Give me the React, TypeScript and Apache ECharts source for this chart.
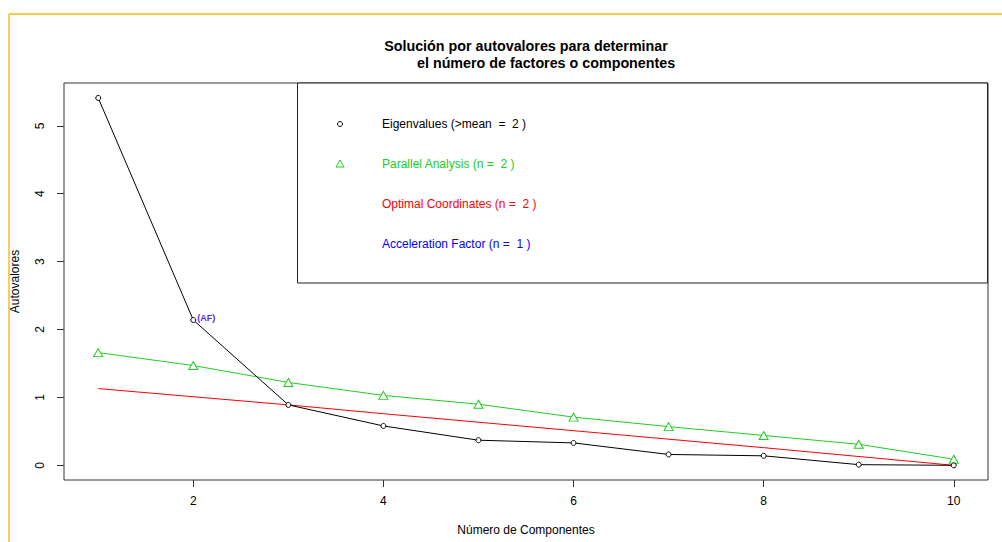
import React, { useEffect, useRef } from "react";
import * as echarts from "echarts";

const components = [1, 2, 3, 4, 5, 6, 7, 8, 9, 10];
const eigenvalues = [5.41, 2.14, 0.89, 0.58, 0.37, 0.33, 0.16, 0.14, 0.01, 0.0];
const parallel = [1.66, 1.47, 1.22, 1.03, 0.9, 0.71, 0.57, 0.44, 0.31, 0.09];
const ocX = [1, 3, 4, 6, 8, 10];
const ocY = [1.13, 0.89, 0.76, 0.51, 0.26, 0.0];
const xTicks = [2, 4, 6, 8, 10];
const yTicks = [0, 1, 2, 3, 4, 5];
const legendLabels = [
  "Eigenvalues (>mean  =  2 )",
  "Parallel Analysis (n =  2 )",
  "Optimal Coordinates (n =  2 )",
  "Acceleration Factor (n =  1 )",
];
const legendColors = ["#000000", "#22cc22", "#ff0000", "#0000ff"];
const titleLines = ["Solución por autovalores para determinar", "el número de factores o componentes"];

const FONT = "'Liberation Sans', Arial, sans-serif";
const GREEN = "#22cc22";
const TRI = "path://M5,0 L10,9 L0,9 Z";

export default function App() {
  const ref = useRef<HTMLDivElement>(null);
  useEffect(() => {
    if (!ref.current) return;
    const chart = echarts.init(ref.current, undefined, { renderer: "svg" });
    const legendTop = 124;
    const legendStep = 40;
    const legendGraphics: any[] = [];
    legendLabels.forEach((t, i) => {
      legendGraphics.push({
        type: "text",
        x: 382,
        y: legendTop + i * legendStep,
        style: { text: t, fill: legendColors[i], font: `12px ${FONT}`, textVerticalAlign: "middle" },
      });
    });
    legendGraphics.push({
      type: "circle",
      shape: { cx: 340, cy: legendTop, r: 2.5 },
      style: { fill: "#fff", stroke: "#000", lineWidth: 1 },
    });
    legendGraphics.push({
      type: "polygon",
      shape: { points: [[340, legendTop + legendStep - 4], [344, legendTop + legendStep + 3], [336, legendTop + legendStep + 3]] },
      style: { fill: "#fff", stroke: GREEN, lineWidth: 1 },
    });

    chart.setOption({
      animation: false,
      backgroundColor: "#ffffff",
      textStyle: { fontFamily: FONT },
      grid: {
        left: 64,
        top: 83,
        right: 14,
        bottom: 62,
        containLabel: false,
        outerBoundsMode: "none",
        show: true,
        borderColor: "#333",
        borderWidth: 1,
        backgroundColor: "transparent",
      },
      xAxis: {
        type: "value",
        min: 0.64,
        max: 10.36,
        name: "Número de Componentes",
        nameLocation: "middle",
        nameGap: 44,
        nameTextStyle: { color: "#000", fontSize: 12, fontFamily: FONT },
        axisLine: { show: false, onZero: false },
        splitLine: { show: false },
        axisTick: { show: true, length: 7, inside: false, customValues: xTicks, lineStyle: { color: "#333" } },
        axisLabel: { customValues: xTicks, color: "#000", fontSize: 12, margin: 15, fontFamily: FONT },
      },
      yAxis: {
        type: "value",
        min: -0.216,
        max: 5.63,
        name: "Autovalores",
        nameLocation: "middle",
        nameRotate: 90,
        nameGap: 43,
        nameTextStyle: { color: "#000", fontSize: 12, fontFamily: FONT },
        axisLine: { show: false, onZero: false },
        splitLine: { show: false },
        axisTick: { show: true, length: 7, inside: false, customValues: yTicks, lineStyle: { color: "#333" } },
        axisLabel: { customValues: yTicks, color: "#000", fontSize: 12, margin: 18, rotate: 90, fontFamily: FONT },
      },
      graphic: [
        { type: "line", shape: { x1: 9, y1: 14, x2: 1002, y2: 14 }, style: { stroke: "#f7c846", lineWidth: 2 } },
        { type: "line", shape: { x1: 9, y1: 14, x2: 9, y2: 542 }, style: { stroke: "#f5bd2a", lineWidth: 1.5 } },
        {
          type: "text",
          x: 526,
          y: 46,
          style: { text: titleLines[0], fill: "#000", font: `bold 14.3px ${FONT}`, textAlign: "center", textVerticalAlign: "middle" },
        },
        {
          type: "text",
          x: 417,
          y: 63,
          style: { text: titleLines[1], fill: "#000", font: `bold 14.3px ${FONT}`, textAlign: "left", textVerticalAlign: "middle" },
        },
        {
          type: "rect",
          shape: { x: 297.5, y: 83, width: 690, height: 200 },
          style: { fill: "#fff", stroke: "#222", lineWidth: 1 },
          z: 10,
        },
        ...legendGraphics.map((g) => ({ ...g, z: 11 })),
      ],
      series: [
        {
          type: "line",
          data: ocX.map((x, i) => [x, ocY[i]]),
          showSymbol: false,
          symbol: "none",
          lineStyle: { color: "#ff0000", width: 1 },
          z: 2,
        },
        {
          type: "line",
          data: components.map((x, i) => [x, parallel[i]]),
          symbol: TRI,
          symbolSize: [9, 8],
          itemStyle: { color: "#fff", borderColor: GREEN, borderWidth: 1 },
          lineStyle: { color: GREEN, width: 1 },
          z: 3,
        },
        {
          type: "line",
          data: components.map((x, i) =>
            i === 1
              ? {
                  value: [x, eigenvalues[i]],
                  label: {
                    show: true,
                    position: "right",
                    distance: 1,
                    formatter: "(AF)",
                    color: "#5a2ee0",
                    fontSize: 9,
                    fontWeight: "bold",
                    offset: [0, -2],
                  },
                }
              : [x, eigenvalues[i]]
          ),
          symbol: "circle",
          symbolSize: 5,
          itemStyle: { color: "#fff", borderColor: "#000", borderWidth: 1 },
          lineStyle: { color: "#000", width: 1 },
          z: 4,
        },
      ],
    });
    return () => chart.dispose();
  }, []);
  return <div ref={ref} style={{ position: "fixed", left: 0, top: 0, width: 1002, height: 542 }} />;
}
